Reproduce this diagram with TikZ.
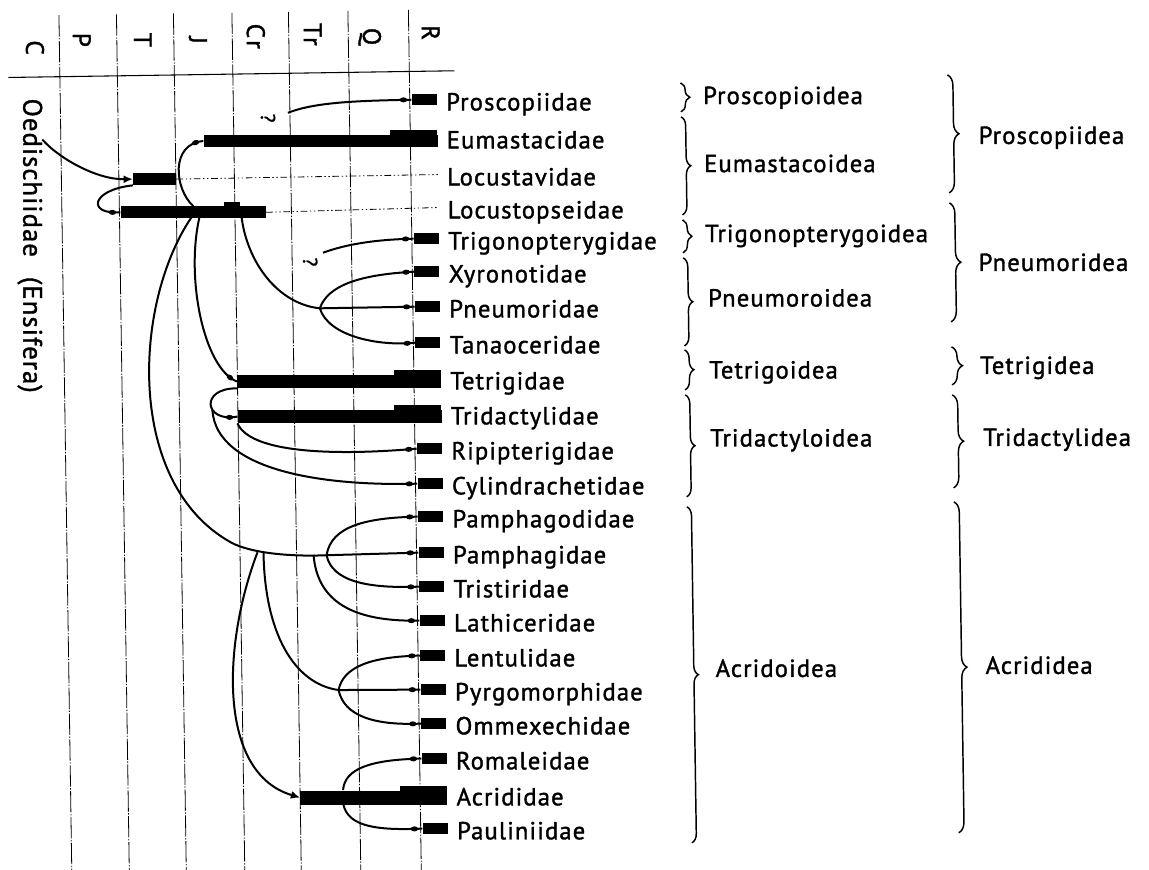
\documentclass[tikz,border=0pt]{standalone}
\usepackage{fontspec}
\setmainfont{PT Sans}[LetterSpace=4.5,FakeBold=1.4]
\newfontfamily\oedfont{PT Sans}[LetterSpace=4,FakeBold=1.4]
\newfontfamily\hdrfont{PT Sans}[LetterSpace=10,FakeBold=1.4]
\usetikzlibrary{arrows.meta,decorations.pathreplacing,decorations.markings,calc}
\begin{document}
\begin{tikzpicture}[x=0.75pt,y=-0.75pt,
  gridline/.style={line width=0.6pt, dash pattern=on 16pt off 1.2pt on 1pt off 1.2pt},
  conn/.style={line width=1.5pt},
  dotend/.style={postaction={decorate}, decoration={markings, mark=at position -6pt with {\fill (0,0) ellipse (2.8pt and 1.9pt);}}},
  tipend/.style={-{Latex[length=7pt,width=6pt]}},
  dashdotline/.style={line width=0.6pt, dash pattern=on 5pt off 2pt on 1pt off 2pt on 1pt off 2pt},
  sbar/.style={fill=black, inner sep=0pt, minimum width=18.75pt, minimum height=8.25pt},
  tbar/.style={fill=black, inner sep=0pt, anchor=west},
  barcap/.style={fill=black, inner sep=0pt, anchor=east, minimum width=35.25pt},
  lab/.style={anchor=base west, inner sep=0pt, font=\fontsize{18.5}{20}\selectfont},
  hdr/.style={inner sep=0pt, rotate=-90, font=\hdrfont\fontsize{19}{20}\selectfont},
  qmark/.style={inner sep=0pt, rotate=-90, font=\fontsize{15}{16}\selectfont},
  brc/.style={line width=1.1pt, decorate, decoration={brace, amplitude=#1}},
]
\useasboundingbox (0,0) rectangle (1149,870);
\begin{scope}[rotate around={0.86:(409,450)}]
% grid
\foreach \gx in {65.5,123,180,238.5,295,354.5,415}
  \draw[gridline] (\gx,10) -- (\gx,878);
\draw[line width=0.8pt] (14,71.5) -- (460,71.5);
% period headers
\node[hdr] (hC)  at (41,42) {C};
\node[hdr] (hP)  at (88,35) {P};
\node[hdr] (hT)  at (149,36) {T};
\node[hdr] (hJ)  at (204,37) {J};
\node[hdr] (hCr) at (262,34) {Cr};
\node[hdr] (hTr) at (319,33) {Tr};
\node[hdr] (hQ)  at (376,36) {Q};
\node[hdr] (hR)  at (437,33) {R};
% outgroup
\node[inner sep=0pt, rotate=-90, font=\oedfont\fontsize{20}{22}\selectfont] (oedt) at (33,240) {Oedischiidae\hspace{15pt}(Ensifera)};
% small bars
\node[sbar] (b1)  at (429.5,100) {};
\node[sbar] (b5)  at (429.5,239) {};
\node[sbar] (b6)  at (429.5,272) {};
\node[sbar] (b7)  at (429.5,307) {};
\node[sbar] (b8)  at (429.5,343) {};
\node[sbar] (b11) at (429.5,449) {};
\node[sbar] (b12) at (429.5,484) {};
\node[sbar] (b13) at (429.5,517) {};
\node[sbar] (b14) at (429.5,553) {};
\node[sbar] (b15) at (429.5,587) {};
\node[sbar] (b16) at (429.5,621) {};
\node[sbar] (b17) at (429.5,656) {};
\node[sbar] (b18) at (429.5,690) {};
\node[sbar] (b19) at (429.5,724) {};
\node[sbar] (b20) at (429.5,759) {};
\node[sbar] (b22) at (429.5,829) {};
% long bars
\node[tbar, minimum width=175.5pt, minimum height=9pt] (eum) at (208,138) {};
\node[barcap, minimum height=11.25pt] (eumc) at (442,137.5) {};
\node[tbar, minimum width=32.25pt, minimum height=9pt] (lva) at (137,175) {};
\node[tbar, minimum width=108.75pt, minimum height=9pt] (lps) at (124,208) {};
\node[fill=black, inner sep=0pt, minimum width=12pt, minimum height=11.25pt] (lpsb) at (236,207) {};
\node[tbar, minimum width=153pt, minimum height=9.75pt] (tet) at (238,379) {};
\node[barcap, minimum height=12pt] (tetc) at (442,378.5) {};
\node[tbar, minimum width=153pt, minimum height=9.75pt] (tri) at (238,414) {};
\node[barcap, minimum height=12pt] (tric) at (442,413.5) {};
\node[tbar, minimum width=110.25pt, minimum height=10.5pt] (acr) at (295,796) {};
\node[barcap, minimum height=12.75pt] (acrc) at (442,795.5) {};
\coordinate (e3) at (442,175);
\coordinate (e4) at (442,208);
\draw[dashdotline] (lva.east) -- (e3);
\draw[dashdotline] (lps.east) -- (e4);
% family labels
\node[lab] (l1)  at (451,111) {Proscopiidae};
\node[lab] (l2)  at (451,149) {Eumastacidae};
\node[lab] (l3)  at (451,186) {Locustavidae};
\node[lab] (l4)  at (451,219) {Locustopseidae};
\node[lab] (l5)  at (451,250) {Trigonopterygidae};
\node[lab] (l6)  at (451,283) {Xyronotidae};
\node[lab] (l7)  at (451,318) {Pneumoridae};
\node[lab] (l8)  at (451,354) {Tanaoceridae};
\node[lab] (l9)  at (451,390) {Tetrigidae};
\node[lab] (l10) at (451,425) {Tridactylidae};
\node[lab] (l11) at (451,460) {Ripipterigidae};
\node[lab] (l12) at (451,495) {Cylindrachetidae};
\node[lab] (l13) at (451,528) {Pamphagodidae};
\node[lab] (l14) at (451,564) {Pamphagidae};
\node[lab] (l15) at (451,598) {Tristiridae};
\node[lab] (l16) at (451,632) {Lathiceridae};
\node[lab] (l17) at (451,667) {Lentulidae};
\node[lab] (l18) at (451,701) {Pyrgomorphidae};
\node[lab] (l19) at (451,735) {Ommexechidae};
\node[lab] (l20) at (451,770) {Romaleidae};
\node[lab] (l21) at (451,806) {Acrididae};
\node[lab] (l22) at (451,840) {Pauliniidae};
% question marks
\node[qmark] (q1) at (273,116) {?};
\node[qmark] (q2) at (313,260.5) {?};
% connectors
\coordinate (oed) at (47,134);
\draw[conn, tipend] (oed) .. controls (62,152) and (100,175) .. (lva.west);
\draw[conn, dotend] (lva.south west) .. controls (95,185) and (90,210) .. (lps.west);
\coordinate (a1) at (197,203);
\draw[conn, dotend] (a1) .. controls (178,185) and (175,140) .. (eum.west);
\coordinate (a2) at (195,214);
\coordinate (a3) at (230,540);
\coordinate (n2) at (325,554);
\draw[conn] (a2) .. controls (135,300) and (125,480) .. (a3) .. controls (250,551) and (290,555) .. (n2);
\coordinate (a4) at (203,214);
\draw[conn, dotend] (a4) .. controls (188,275) and (205,365) .. (tet.west);
\coordinate (a5) at (245,214);
\coordinate (n1) at (322,307);
\draw[conn] (a5) .. controls (250,260) and (280,302) .. (n1);
\draw[conn, dotend] (n1) .. controls (330,285) and (360,274) .. (b6.west);
\draw[conn, dotend] (n1) -- (b7.west);
\draw[conn, dotend] (n1) .. controls (330,335) and (380,346) .. (b8.west);
\coordinate (a6) at ($(q2)+(13,-9)$);
\draw[conn, dotend] (a6) .. controls (350,243) and (380,239) .. (b5.west);
\coordinate (a7) at ($(q1)+(20,-5)$);
\draw[conn, dotend] (a7) .. controls (320,101) and (360,100) .. (b1.west);
\draw[conn, dotend] (tet.south west) .. controls (200,385) and (205,420) .. (tri.west);
\coordinate (l1c) at (213,407);
\draw[conn, dotend] (l1c) .. controls (216,470) and (330,485) .. (b12.west);
\draw[conn, dotend] (tri.south west) .. controls (250,450) and (330,455) .. (b11.west);
\draw[conn, dotend] (n2) .. controls (330,525) and (365,517) .. (b13.west);
\draw[conn, dotend] (n2) -- (b14.west);
\draw[conn, dotend] (n2) .. controls (330,580) and (365,588) .. (b15.west);
\coordinate (a8) at (312,553.5);
\draw[conn, dotend] (a8) .. controls (315,600) and (350,621) .. (b16.west);
\coordinate (a9) at (256,550);
\draw[conn, tipend] (a9) .. controls (220,640) and (212,770) .. (acr.west);
\coordinate (a10) at (262,550.5);
\coordinate (n3) at (335,689);
\draw[conn] (a10) .. controls (262,630) and (290,682) .. (n3);
\draw[conn, dotend] (n3) .. controls (340,665) and (370,656) .. (b17.west);
\draw[conn, dotend] (n3) -- (b18.west);
\draw[conn, dotend] (n3) .. controls (340,715) and (370,725) .. (b19.west);
\coordinate (a11) at (338,789);
\draw[conn, dotend] (a11) .. controls (340,768) and (365,759) .. (b20.west);
\coordinate (a12) at (338,803);
\draw[conn, dotend] (a12) .. controls (342,826) and (372,830) .. (b22.west);
% superfamily braces
\draw[brc=6.75pt] (686,87) -- (686,116);
\draw[brc=6.75pt] (686,121) -- (686,219);
\draw[brc=6.75pt] (686,224) -- (686,257);
\draw[brc=6.75pt] (686,262) -- (686,350);
\draw[brc=6.75pt] (686,354) -- (686,394);
\draw[brc=6.75pt] (686,399) -- (686,501);
\draw[brc=6.75pt] (686,511) -- (686,847);
\node[lab] (s1) at (708,108.5) {Proscopioidea};
\node[lab] (s2) at (708,176.5) {Eumastacoidea};
\node[lab] (s3) at (708,246.5) {Trigonopterygoidea};
\node[lab] (s4) at (710,311) {Pneumoroidea};
\node[lab] (s5) at (710,383) {Tetrigoidea};
\node[lab] (s6) at (710,451) {Tridactyloidea};
\node[lab] (s7) at (712,681.5) {Acridoidea};
% infraorder braces
\draw[brc=8pt] (953,83) -- (953,201);
\draw[brc=8pt] (953,211) -- (953,330);
\draw[brc=8pt] (953,355) -- (953,393);
\draw[brc=8pt] (953,403) -- (953,496);
\draw[brc=8pt] (953,510) -- (953,841);
\node[lab] (t1) at (983,152.5) {Proscopiidea};
\node[lab] (t2) at (981,279.5) {Pneumoridea};
\node[lab] (t3) at (981,382.5) {Tetrigidea};
\node[lab] (t4) at (983,454.5) {Tridactylidea};
\node[lab] (t5) at (982,682.5) {Acrididea};
\end{scope}
\end{tikzpicture}
\end{document}
